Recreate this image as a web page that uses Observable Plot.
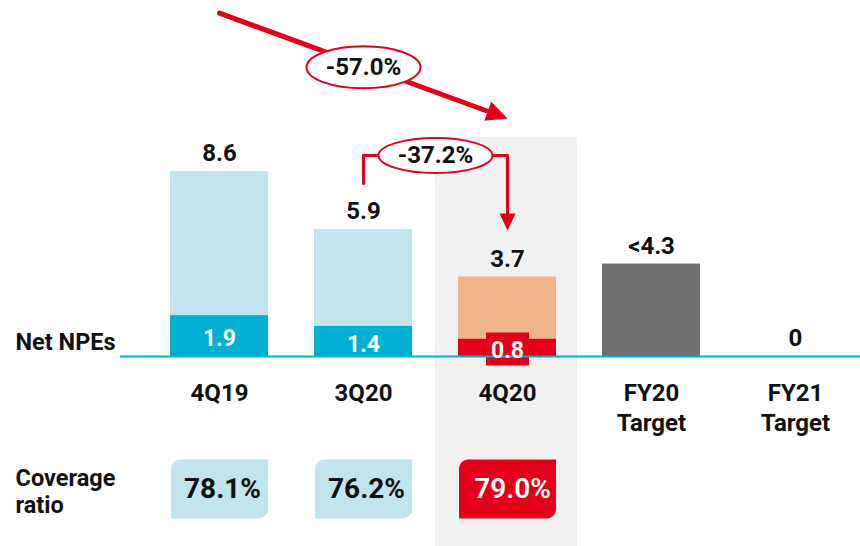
<!DOCTYPE html>
<html>
<head>
<meta charset="utf-8">
<script src="https://cdn.jsdelivr.net/npm/d3@7"></script>
<script src="https://cdn.jsdelivr.net/npm/@observablehq/plot@0.6"></script>
<style>
  html, body { margin: 0; padding: 0; background: #fff; }
  #chart { width: 860px; height: 546px; }
</style>
</head>
<body>
<div id="chart"></div>
<script>
// ---- data ----
const categories = ["4Q19", "3Q20", "4Q20", "FY20\nTarget", "FY21\nTarget"];
const totalNPE = [8.6, 5.9, 3.7, 4.3, 0];
const totalLabels = ["8.6", "5.9", "3.7", "<4.3", "0"];
const netNPE = [1.9, 1.4, 0.8, null, null];
const netLabels = ["1.9", "1.4", "0.8", null, null];
const coverage = [78.1, 76.2, 79.0, null, null];
const coverageLabels = ["78.1%", "76.2%", "79.0%", null, null];
const changeLabels = ["-57.0%", "-37.2%"];
const rowLabels = ["Net NPEs", "Coverage\nratio"];

const highlight = "4Q20";
const targets = ["FY20\nTarget", "FY21\nTarget"];

const rows = categories.map((c, i) => ({
  cat: c, total: totalNPE[i], totalLabel: totalLabels[i],
  net: netNPE[i], netLabel: netLabels[i],
  cov: coverage[i], covLabel: coverageLabels[i]
}));

// ---- style ----
const LIGHT = "#c1e4ed", CYAN = "#00afd1", ORANGE = "#efb48a", RED = "#e3001b",
      DARK = "#6f6f6f", BG = "#f1f1f1", FONT = "Roboto, 'Open Sans', sans-serif";

// ---- layout (in y-axis units: 21.5px per unit, baseline at 356px) ----
const Y_MIN = -8.837, Y_MAX = 16.558;
const HILITE_TOP = 10.19;
const CAT_LABEL_Y = -1.04;
const COV_Y = -6.163;
const NET_ROW_Y = 0.67;
const COV_ROW_Y = -6.23;
const BIG_ARROW = {y1: 15.97, y2: 11.07};
const ELL1_Y = 13.45;
const BRACKET = {yStart: 8.05, yTop: 9.35, yEnd: 6.62, yTip: 5.86};

// custom symbols
function ellipse(rx, ry) {
  const k = 0.5523;
  return {draw(c) {
    c.moveTo(rx, 0);
    c.bezierCurveTo(rx, ry * k, rx * k, ry, 0, ry);
    c.bezierCurveTo(-rx * k, ry, -rx, ry * k, -rx, 0);
    c.bezierCurveTo(-rx, -ry * k, -rx * k, -ry, 0, -ry);
    c.bezierCurveTo(rx * k, -ry, rx, -ry * k, rx, 0);
    c.closePath();
  }};
}
function head(angle, L, W) {
  const co = Math.cos(angle), si = Math.sin(angle);
  return {draw(c) {
    c.moveTo(0, 0);
    c.lineTo(-L * co - W * si, -L * si + W * co);
    c.lineTo(-L * co + W * si, -L * si - W * co);
    c.closePath();
  }};
}
function cornerBox(w, h, r) {
  return {draw(c) {
    const x0 = -w / 2, x1 = w / 2, y0 = -h / 2, y1 = h / 2;
    c.moveTo(x0 + r, y0);
    c.lineTo(x1, y0);
    c.lineTo(x1, y1 - r);
    c.arcTo(x1, y1, x1 - r, y1, r);
    c.lineTo(x0, y1);
    c.lineTo(x0, y0 + r);
    c.arcTo(x0, y0, x0 + r, y0, r);
    c.closePath();
  }};
}
function box(w, h) {
  return {draw(c) { c.rect(-w / 2, -h / 2, w, h); }};
}

const barFill = d => d.cat === highlight ? ORANGE : targets.includes(d.cat) ? DARK : LIGHT;
const netFill = d => d.cat === highlight ? RED : CYAN;

const netRows = rows.filter(d => d.net != null);
const covRows = rows.filter(d => d.cov != null);
const covPlain = covRows.filter(d => d.cat !== highlight);
const covHi = covRows.filter(d => d.cat === highlight);

const chart = Plot.plot({
  width: 860, height: 546,
  marginTop: 0, marginBottom: 0, marginLeft: 0, marginRight: 0,
  style: {fontFamily: FONT, background: "#fff"},
  x: {domain: categories, range: [170, 844], paddingInner: 0.32, paddingOuter: 0, axis: null},
  y: {domain: [Y_MIN, Y_MAX], range: [546, 0], axis: null},
  marks: [
    // highlight background
    Plot.barY([highlight], {x: d => d, y1: Y_MIN, y2: HILITE_TOP, fill: BG, insetLeft: -23, insetRight: -21}),
    // bars
    Plot.barY(rows.filter(d => d.total > 0), {x: "cat", y: "total", fill: barFill}),
    Plot.barY(netRows, {x: "cat", y: "net", fill: netFill}),
    // red label box for highlighted net value
    Plot.dot(netRows.filter(d => d.cat === highlight), {x: "cat", y: d => d.net / 2, dy: 1, symbol: box(43, 33), r: 10, fill: RED, stroke: "none"}),
    // baseline
    Plot.ruleY([0], {stroke: CYAN, strokeWidth: 2, insetLeft: 120}),
    // value labels
    Plot.text(rows, {x: "cat", y: "total", text: "totalLabel", dy: -18, fontSize: 24, fontWeight: "bold", fill: "#111"}),
    Plot.text(netRows, {x: "cat", y: d => d.net / 2, text: "netLabel", dy: 3, fontSize: 23, fontWeight: "bold", fill: "#fff"}),
    // category labels
    Plot.text(rows, {x: "cat", y: CAT_LABEL_Y, text: "cat", lineAnchor: "top", lineHeight: 1.28, fontSize: 24, fontWeight: "bold", fill: "#111"}),
    // row labels
    Plot.text([rowLabels[0]], {frameAnchor: "left", dx: 15, y: NET_ROW_Y, text: d => d, textAnchor: "start", fontSize: 23.5, fontWeight: "bold", fill: "#111"}),
    Plot.text([rowLabels[1]], {frameAnchor: "left", dx: 15, y: COV_ROW_Y, text: d => d, textAnchor: "start", lineHeight: 1.15, fontSize: 23.5, fontWeight: "bold", fill: "#111"}),
    // coverage boxes
    Plot.dot(covRows, {x: "cat", y: COV_Y, symbol: cornerBox(97, 59, 9), r: 10, fill: d => d.cat === highlight ? RED : LIGHT, stroke: "none"}),
    Plot.text(covPlain, {x: "cat", y: COV_Y, text: "covLabel", dx: 3, fontSize: 28, fontWeight: "bold", fill: "#111"}),
    Plot.text(covHi, {x: "cat", y: COV_Y, text: "covLabel", dx: 5, fontSize: 28, fontWeight: "600", fill: "#fff"}),
    // big arrow 4Q19 -> 4Q20
    Plot.arrow([0], {x1: () => categories[0], y1: BIG_ARROW.y1, x2: () => highlight, y2: BIG_ARROW.y2, insetEnd: 16, headLength: 0, stroke: RED, strokeWidth: 5}),
    Plot.dot([0], {x: () => highlight, y: BIG_ARROW.y2, symbol: head(0.352, 21, 10), r: 10, fill: RED, stroke: "none"}),
    Plot.dot([changeLabels[0]], {x: () => categories[1], y: ELL1_Y, symbol: ellipse(57, 21), r: 10, fill: "#fff", stroke: RED, strokeWidth: 2}),
    Plot.text([changeLabels[0]], {x: () => categories[1], y: ELL1_Y, text: d => d, fontSize: 24, fontWeight: "bold", fill: "#111"}),
    // bracket arrow 3Q20 -> 4Q20
    Plot.line([
      {x: categories[1], y: BRACKET.yStart},
      {x: categories[1], y: BRACKET.yTop},
      {x: highlight, y: BRACKET.yTop},
      {x: highlight, y: BRACKET.yEnd}
    ], {x: "x", y: "y", stroke: RED, strokeWidth: 3, curve: "linear"}),
    Plot.dot([0], {x: () => highlight, y: BRACKET.yTip, symbol: head(Math.PI / 2, 17, 8), r: 10, fill: RED, stroke: "none"}),
    Plot.dot([changeLabels[1]], {x: () => highlight, dx: -72, y: BRACKET.yTop, symbol: ellipse(57, 17.5), r: 10, fill: "#fff", stroke: RED, strokeWidth: 2}),
    Plot.text([changeLabels[1]], {x: () => highlight, dx: -72, y: BRACKET.yTop, text: d => d, fontSize: 24, fontWeight: "bold", fill: "#111"})
  ]
});
document.getElementById("chart").appendChild(chart);
</script>
</body>
</html>
